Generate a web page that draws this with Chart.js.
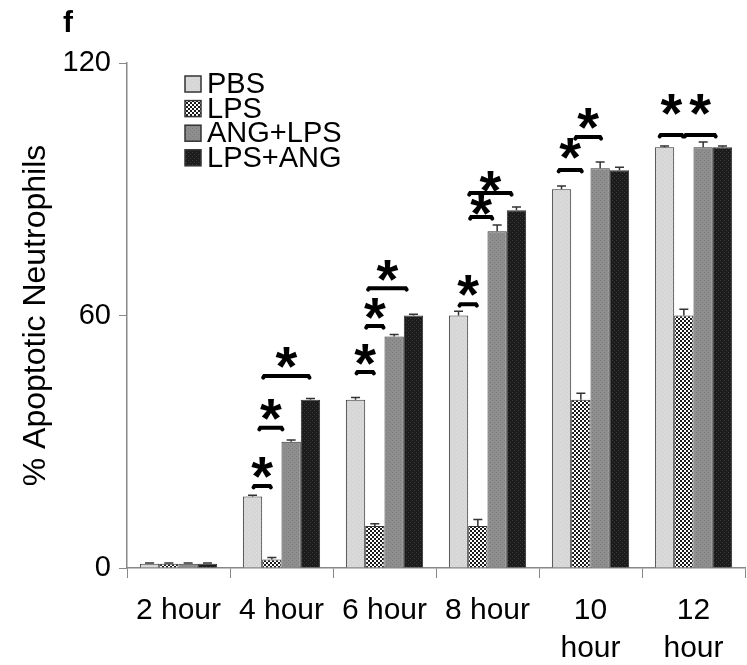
<!DOCTYPE html>
<html>
<head>
<meta charset="utf-8">
<script src="https://cdn.jsdelivr.net/npm/chart.js@4.4.1/dist/chart.umd.min.js"></script>
<style>
html,body{margin:0;padding:0;background:#fff;}
#wrap{width:747px;height:665px;position:relative;}
</style>
</head>
<body>
<div id="wrap"><canvas id="c" width="747" height="665"></canvas></div>
<script>
// ---- data ----
const categories = ['2 hour', '4 hour', '6 hour', '8 hour', ['10', 'hour'], ['12', 'hour']];
const seriesNames = ['PBS', 'LPS', 'ANG+LPS', 'LPS+ANG'];
const pbsValues    = [1, 17, 40, 60, 90, 100];
const lpsValues    = [1, 2, 10, 10, 40, 60];
const angLpsValues = [1, 30, 55, 80, 95, 100];
const lpsAngValues = [1, 40, 60, 85, 94.5, 100];
const pbsErr    = [0.2, 0.3, 0.5, 1.0, 0.8, 0.3];
const lpsErr    = [0.2, 0.5, 0.5, 1.5, 1.5, 1.5];
const angLpsErr = [0.2, 0.4, 0.5, 1.5, 1.5, 1.2];
const lpsAngErr = [0.2, 0.3, 0.3, 0.8, 0.7, 0.3];
const yTicks = [0, 60, 120];
// significance brackets: category index, from bar, to bar, height (value units), star lift (value units)
const bracketCat  = [1, 1, 1, 2, 2, 2, 3, 3, 3, 4, 4, 5, 5];
const bracketFrom = [0, 0.3, 0.5, 0, 0.5, 0.6, 0, 0.55, 0.5, -0.2, 0.66, -0.3, 1];
const bracketTo   = [1, 1.6, 3, 1, 1.5, 2.7, 1, 1.8, 2.8, 1.1, 2.1, 1, 2.7];
const bracketY    = [19.5, 33.3, 45.6, 46.6, 57.5, 66.5, 62.7, 83.4, 89.1, 94.6, 102.4, 102.9, 102.9];
const starLift    = [4.4, 4.4, 4.4, 4.2, 4.2, 4.2, 4.4, 3.0, 2.8, 5.2, 4.4, 7.3, 7.3];

const allValues = [pbsValues, lpsValues, angLpsValues, lpsAngValues];
const allErrors = [pbsErr, lpsErr, angLpsErr, lpsAngErr];

// ---- patterns ----
function makePattern(size, base, dotColor, cells) {
  const c = document.createElement('canvas');
  c.width = size; c.height = size;
  const g = c.getContext('2d');
  g.fillStyle = base; g.fillRect(0, 0, size, size);
  g.fillStyle = dotColor;
  cells.forEach(([x, y, w, h]) => g.fillRect(x, y, w, h));
  return g.createPattern(c, 'repeat');
}
const fills = [
  makePattern(4, '#d6d6d6', '#e2e2e2', [[0,0,1,1],[2,2,1,1]]),
  makePattern(4, '#ffffff', '#1a1a1a', [[0,0,2,2],[2,2,2,2]]),
  makePattern(4, '#8e8e8e', '#7c7c7c', [[0,0,1,1],[2,2,1,1]]),
  makePattern(4, '#1c1c1c', '#3c3c3c', [[0,0,1,1],[2,2,1,1]])
];

const FONT = '"Liberation Sans", Arial, sans-serif';

const overlay = {
  id: 'overlay',
  afterDatasetsDraw(chart) {
    const ctx = chart.ctx;
    const ys = chart.scales.y;
    ctx.save();
    // error bars
    ctx.strokeStyle = '#333';
    ctx.lineWidth = 1.5;
    allValues.forEach((vals, i) => {
      const meta = chart.getDatasetMeta(i);
      meta.data.forEach((bar, j) => {
        const top = ys.getPixelForValue(vals[j]);
        const e = ys.getPixelForValue(vals[j] + allErrors[i][j]);
        ctx.beginPath();
        ctx.moveTo(bar.x, top); ctx.lineTo(bar.x, e);
        ctx.moveTo(bar.x - 4.5, e); ctx.lineTo(bar.x + 4.5, e);
        ctx.stroke();
      });
    });
    // brackets + asterisks
    ctx.strokeStyle = '#000';
    ctx.fillStyle = '#000';
    ctx.lineCap = 'round';
    ctx.font = 'bold 56px ' + FONT;
    ctx.textAlign = 'center';
    ctx.textBaseline = 'alphabetic';
    const m = ctx.measureText('*');
    const asc = m.actualBoundingBoxAscent || 40;
    const desc = m.actualBoundingBoxDescent || -18;
    const half = (asc - desc) / 2;
    bracketCat.forEach((cat, k) => {
      const b0 = chart.getDatasetMeta(0).data[cat];
      const bw = chart.getDatasetMeta(1).data[cat].x - b0.x;
      const x1 = b0.x + bracketFrom[k] * bw;
      const x2 = b0.x + bracketTo[k] * bw;
      const y = ys.getPixelForValue(bracketY[k]);
      ctx.lineWidth = 4;
      ctx.beginPath();
      ctx.moveTo(x1 + 1, y + 1.5);
      ctx.lineTo(x1 + 2, y);
      ctx.lineTo(x2 - 2, y);
      ctx.lineTo(x2 - 1, y + 1.5);
      ctx.stroke();
      const sy = ys.getPixelForValue(bracketY[k] + starLift[k]);
      ctx.fillText('*', (x1 + x2) / 2, sy + half);
    });
    // legend
    ctx.font = '29px ' + FONT;
    ctx.textAlign = 'left';
    ctx.textBaseline = 'middle';
    seriesNames.forEach((name, i) => {
      const cy = 84 + i * 24.6;
      ctx.fillStyle = fills[i];
      ctx.fillRect(185, cy - 8, 16, 16);
      ctx.lineWidth = 1.5;
      ctx.strokeStyle = '#333';
      ctx.strokeRect(185, cy - 8, 16, 16);
      ctx.fillStyle = '#000';
      ctx.fillText(name, 207, cy + 1);
    });
    // panel letter
    ctx.font = 'bold 30px ' + FONT;
    ctx.fillStyle = '#000';
    ctx.textBaseline = 'alphabetic';
    ctx.fillText('f', 63, 32);
    ctx.restore();
  }
};

new Chart(document.getElementById('c'), {
  type: 'bar',
  data: {
    labels: categories,
    datasets: seriesNames.map((n, i) => ({
      label: n,
      data: allValues[i],
      backgroundColor: fills[i],
      borderColor: '#333',
      borderWidth: 1,
      categoryPercentage: 0.75,
      barPercentage: 1.0
    }))
  },
  options: {
    responsive: false,
    animation: false,
    events: [],
    layout: { padding: { left: 17, right: 2, top: 63, bottom: 0 } },
    plugins: { legend: { display: false }, tooltip: { enabled: false } },
    scales: {
      x: {
        grid: { display: true, drawOnChartArea: false, drawTicks: true, tickLength: 10, color: '#888', offset: true },
        border: { display: true, color: '#888', width: 1.5 },
        ticks: { color: '#000', font: { family: FONT, size: 30, lineHeight: 1.27 }, padding: 14, maxRotation: 0, autoSkip: false },
        afterFit(s) { s.height = 665 - 568; }
      },
      y: {
        min: 0, max: 120,
        afterBuildTicks(s) { s.ticks = yTicks.map(v => ({ value: v })); },
        grid: { display: true, drawOnChartArea: false, drawTicks: true, tickLength: 8, color: '#888' },
        border: { display: true, color: '#888', width: 1.5 },
        ticks: { color: '#000', font: { family: FONT, size: 29 }, padding: 8 },
        title: { display: true, text: '% Apoptotic Neutrophils', color: '#000', font: { family: FONT, size: 32 }, padding: 0 },
        afterFit(s) { s.width = 127 - 17; }
      }
    }
  },
  plugins: [overlay]
});
</script>
</body>
</html>
